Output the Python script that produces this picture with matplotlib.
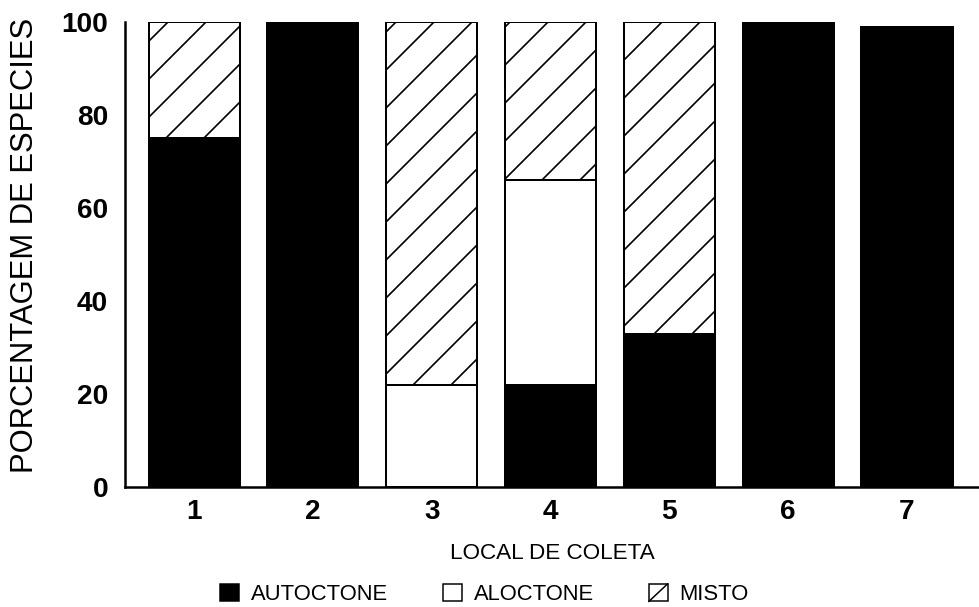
import matplotlib
matplotlib.use("Agg")
import matplotlib.pyplot as plt
from matplotlib.patches import Patch, Rectangle
from matplotlib.lines import Line2D
from matplotlib.legend_handler import HandlerBase
import numpy as np

DPI = 228


def px(p):
    # pixel size -> points
    return p * 72.0 / DPI


plt.rcParams['font.family'] = ['Liberation Sans', 'DejaVu Sans']
plt.rcParams['hatch.linewidth'] = px(1.7)
plt.rcParams['hatch.color'] = 'black'

locais = ['1', '2', '3', '4', '5', '6', '7']
autoctone = [75, 100, 0, 22, 33, 100, 99]
aloctone = [0, 0, 22, 44, 0, 0, 0]
misto = [25, 0, 78, 34, 67, 0, 0]

x = np.arange(1, len(locais) + 1)
w = 0.766

fig = plt.figure(figsize=(979 / DPI, 607 / DPI), dpi=DPI)
ax = fig.add_axes([0.1277, 0.1977, 0.8723, 0.7661])

aut = np.array(autoctone)
alo = np.array(aloctone)
mis = np.array(misto)

ax.bar(x, aut, w, color='black', edgecolor='black', linewidth=px(2))
ax.bar(x, alo, w, bottom=aut, color='white', edgecolor='black', linewidth=px(2))
ax.bar(x, mis, w, bottom=aut + alo, color='white', edgecolor='black',
       linewidth=px(2), hatch='//')

ax.set_xlim(0.419, 7.606)
ax.set_ylim(0, 100)
ax.set_yticks([0, 20, 40, 60, 80, 100])
ax.set_xticks(x)
ax.set_xticklabels(locais)
for s in ['top', 'right']:
    ax.spines[s].set_visible(False)
for s in ['left', 'bottom']:
    ax.spines[s].set_linewidth(px(2.5))
ax.tick_params(axis='both', length=0, labelsize=px(28))
ax.tick_params(axis='y', pad=px(17))
ax.tick_params(axis='x', pad=px(12.5))
for lab in ax.get_xticklabels() + ax.get_yticklabels():
    lab.set_fontweight('bold')

ax.set_xlabel('LOCAL DE COLETA', fontsize=px(22.5), labelpad=px(18))
ax.set_ylabel('PORCENTAGEM DE ESPECIES', fontsize=px(31))
ax.yaxis.set_label_coords(-0.10, 0.52)


class HandlerMisto(HandlerBase):
    def create_artists(self, legend, orig_handle, xdescent, ydescent,
                       width, height, fontsize, trans):
        r = Rectangle((-xdescent, -ydescent), width, height, facecolor='white',
                      edgecolor='black', linewidth=px(1.5), transform=trans)
        l = Line2D([-xdescent, -xdescent + width], [-ydescent, -ydescent + height],
                   color='black', linewidth=px(1.5), transform=trans)
        return [r, l]


h_aut = Patch(facecolor='black', edgecolor='black', linewidth=px(1.5))
h_alo = Patch(facecolor='white', edgecolor='black', linewidth=px(1.5))
h_mis = Patch(facecolor='white', edgecolor='black', linewidth=px(1.5))
fig.legend([h_aut, h_alo, h_mis], ['AUTOCTONE', 'ALOCTONE', 'MISTO'], loc='center',
           bbox_to_anchor=(484.5 / 979, 0.0205), ncol=3, frameon=False,
           fontsize=px(22), handlelength=0.85, handleheight=0.85,
           handletextpad=0.55, columnspacing=2.5, borderpad=0,
           handler_map={h_mis: HandlerMisto()})

fig.savefig('out.png', dpi=DPI)
